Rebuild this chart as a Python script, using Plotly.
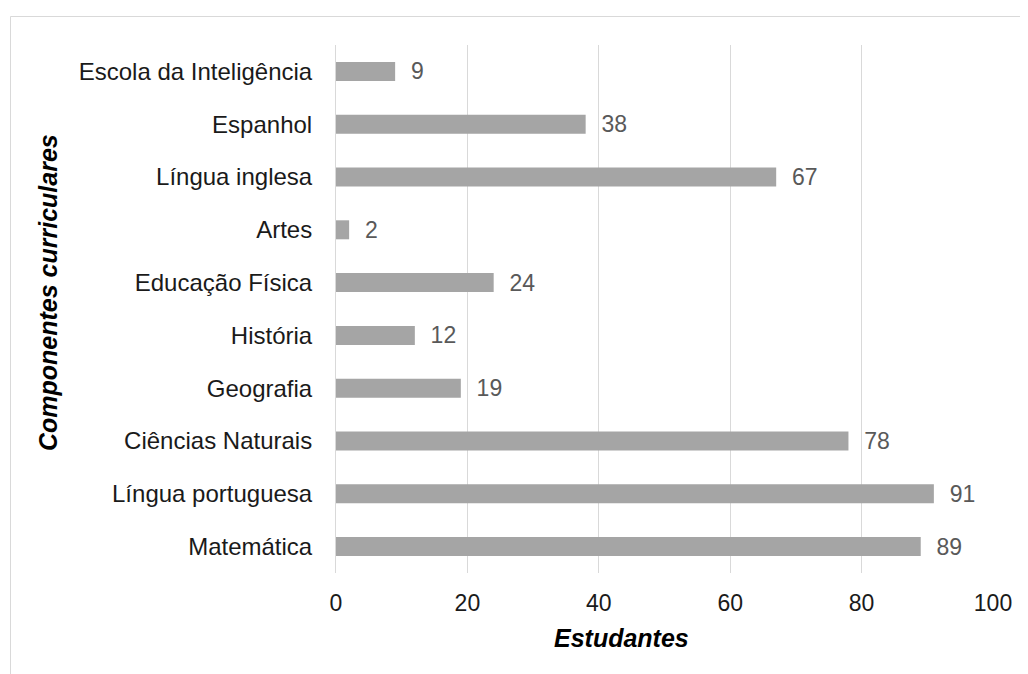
import plotly.graph_objects as go

categories = ["Escola da Inteligência", "Espanhol", "Língua inglesa", "Artes",
              "Educação Física", "História", "Geografia", "Ciências Naturais",
              "Língua portuguesa", "Matemática"]
values = [9, 38, 67, 2, 24, 12, 19, 78, 91, 89]
x_ticks = [0, 20, 40, 60, 80, 100]

# The page body has an 8px margin, so the figure starts at (8, 8).
OFF = 8
W, H = 1028 - OFF, 674 - OFF
L, R, T, B = 336 - OFF, 35, 45 - OFF, 101
pw, ph = W - L - R, H - T - B

def px_x(p):
    return (p - OFF - L) / pw

def px_y(p):
    return (H - B - (p - OFF)) / ph

FONT = "Liberation Sans, Arial, sans-serif"

fig = go.Figure()
fig.add_trace(go.Bar(
    y=categories, x=values, orientation="h",
    marker=dict(color="#A5A5A5", line=dict(width=0)),
    width=0.36,
    text=values,
    texttemplate="\u00a0\u00a0%{x}",
    textposition="outside",
    constraintext="none",
    textfont=dict(family=FONT, size=23, color="#595959"),
    cliponaxis=False,
    hoverinfo="skip",
))

fig.update_layout(
    width=W, height=H,
    margin=dict(l=L, r=R, t=T, b=B, autoexpand=False),
    paper_bgcolor="white", plot_bgcolor="white",
    showlegend=False,
    font=dict(family=FONT, color="#1a1a1a"),
    xaxis=dict(
        range=[0, 100], tickvals=x_ticks, ticktext=[str(v) for v in x_ticks],
        showgrid=True, gridcolor="#D9D9D9", gridwidth=1,
        zeroline=False, showline=False,
        tickfont=dict(family=FONT, size=23, color="#1a1a1a"),
        ticks="", ticklabelstandoff=14,
        fixedrange=True,
    ),
    yaxis=dict(
        autorange="reversed",
        showgrid=False, zeroline=False,
        showline=True, linecolor="#D9D9D9", linewidth=1,
        tickfont=dict(family=FONT, size=24, color="#1a1a1a"),
        ticks="", ticklabelstandoff=18,
        fixedrange=True,
    ),
    bargap=0.64,
    shapes=[dict(
        type="rect", xref="paper", yref="paper",
        x0=px_x(10.5), x1=px_x(1100), y0=px_y(760), y1=px_y(16.5),
        line=dict(color="#D9D9D9", width=1), fillcolor="rgba(0,0,0,0)",
        layer="below",
    )],
    annotations=[
        dict(text="<b><i>Componentes curriculares</i></b>", xref="paper", yref="paper",
             x=px_x(48), y=px_y(293), textangle=-90, showarrow=False,
             xanchor="center", yanchor="middle",
             font=dict(family=FONT, size=25, color="#000000")),
        dict(text="<b><i>Estudantes</i></b>", xref="paper", yref="paper",
             x=px_x(621), y=px_y(638), showarrow=False,
             xanchor="center", yanchor="middle",
             font=dict(family=FONT, size=25, color="#000000")),
    ],
)

fig.write_html("out.html")
